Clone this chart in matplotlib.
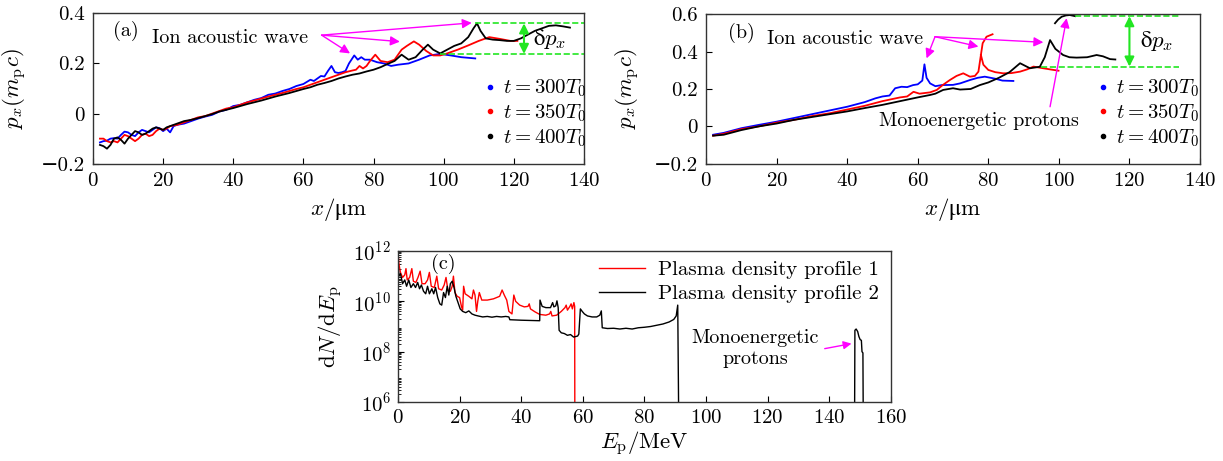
import numpy as np
import matplotlib
matplotlib.use("Agg")
import matplotlib.pyplot as plt
from matplotlib.ticker import LogLocator, NullFormatter

plt.rcParams['font.family'] = ['cmr10', 'DejaVu Serif']
plt.rcParams['mathtext.fontset'] = 'cm'
plt.rcParams['axes.formatter.use_mathtext'] = True
plt.rcParams['axes.unicode_minus'] = True

# ---------------- panel (a) data ----------------
blue_a_x = [2, 3, 4, 5, 6, 7, 8, 9, 10, 11, 12, 13, 14, 15, 16, 17, 18, 19, 20, 21, 22, 23, 24, 26, 28,
            30, 32, 34, 36, 38, 40, 42, 44, 46, 48, 50, 52, 54, 56, 58, 60, 62, 63, 64, 65, 66, 67, 68,
            69, 70, 71, 72, 73, 74.5, 75.5, 76.5, 77.5, 79, 81, 83, 85, 87, 90, 93, 96, 99, 102, 105, 109]
blue_a_y = [-0.115, -0.11, -0.108, -0.1, -0.098, -0.1, -0.085, -0.072, -0.075, -0.085, -0.09, -0.075,
            -0.065, -0.07, -0.075, -0.065, -0.055, -0.058, -0.07, -0.06, -0.075, -0.05, -0.045, -0.04,
            -0.03, -0.02, -0.012, -0.005, 0.008, 0.015, 0.03, 0.035, 0.045, 0.055, 0.062, 0.075, 0.08,
            0.09, 0.098, 0.11, 0.118, 0.135, 0.13, 0.14, 0.15, 0.148, 0.17, 0.19, 0.165, 0.162, 0.165,
            0.17, 0.2, 0.232, 0.215, 0.225, 0.215, 0.215, 0.205, 0.2, 0.19, 0.195, 0.2, 0.215, 0.232,
            0.238, 0.232, 0.225, 0.22]

red_a_x = [2, 3, 4, 5, 6, 7, 8, 9, 10, 11, 12, 13, 14, 15, 16, 17, 18, 19, 20, 21, 22, 24, 26, 28, 30,
           32, 34, 36, 38, 40, 42, 44, 46, 48, 50, 52, 54, 56, 58, 60, 62, 64, 66, 68, 70, 72, 74, 75,
           76, 77, 78, 79, 80.5, 82, 84, 86, 88, 89.5, 91.5, 93, 95, 97, 99, 101, 104, 107, 110, 113,
           116, 119, 121]
red_a_y = [-0.1, -0.1, -0.11, -0.115, -0.11, -0.115, -0.1, -0.085, -0.09, -0.1, -0.11, -0.1, -0.085,
           -0.08, -0.09, -0.085, -0.07, -0.06, -0.065, -0.06, -0.05, -0.045, -0.035, -0.025, -0.015,
           -0.01, 0.0, 0.01, 0.02, 0.025, 0.035, 0.045, 0.052, 0.06, 0.068, 0.075, 0.082, 0.09, 0.098,
           0.105, 0.115, 0.125, 0.135, 0.145, 0.155, 0.165, 0.172, 0.175, 0.19, 0.18, 0.19, 0.21, 0.235,
           0.21, 0.205, 0.215, 0.255, 0.27, 0.288, 0.275, 0.25, 0.232, 0.232, 0.24, 0.255, 0.272, 0.29,
           0.305, 0.298, 0.29, 0.29]

black_a_x = [2, 3, 4, 5, 6, 7, 8, 9, 10, 11, 12, 13, 14, 15, 16, 17, 18, 19, 20, 21, 22, 24, 26, 28,
             30, 32, 34, 36, 38, 40, 42, 44, 46, 48, 50, 52, 54, 56, 58, 60, 62, 64, 66, 68, 70, 72,
             74, 76, 78, 80, 82, 84, 86, 88, 90, 92, 94, 95.5, 97, 99, 101, 103, 105, 107, 108.5,
             109.5, 110.5, 112, 114, 116, 118, 120, 122, 124, 126, 128, 130, 132, 134, 136]
black_a_y = [-0.125, -0.13, -0.14, -0.125, -0.1, -0.095, -0.105, -0.12, -0.1, -0.085, -0.07, -0.075,
             -0.085, -0.08, -0.07, -0.06, -0.055, -0.06, -0.065, -0.055, -0.05, -0.04, -0.03, -0.025,
             -0.018, -0.01, -0.002, 0.008, 0.015, 0.022, 0.03, 0.038, 0.045, 0.052, 0.06, 0.068, 0.075,
             0.082, 0.09, 0.098, 0.105, 0.115, 0.122, 0.13, 0.14, 0.148, 0.155, 0.16, 0.168, 0.175,
             0.185, 0.198, 0.21, 0.235, 0.215, 0.225, 0.255, 0.275, 0.255, 0.24, 0.255, 0.27, 0.28,
             0.305, 0.34, 0.36, 0.33, 0.3, 0.295, 0.293, 0.29, 0.29, 0.3, 0.315, 0.33, 0.34, 0.35,
             0.352, 0.348, 0.343]

# ---------------- panel (b) data ----------------
blue_b_x = [2, 5, 10, 15, 20, 25, 30, 35, 40, 45, 48, 50, 52, 53.6, 55.4, 57, 58.7, 60, 61.3, 61.9,
            62.5, 63.5, 65, 66.8, 70, 72, 74.8, 77, 79, 82, 84, 87.1]
blue_b_y = [-0.045, -0.035, -0.01, 0.008, 0.025, 0.045, 0.065, 0.085, 0.105, 0.13, 0.15, 0.16, 0.165,
            0.204, 0.212, 0.21, 0.221, 0.225, 0.245, 0.332, 0.26, 0.23, 0.215, 0.221, 0.222, 0.23,
            0.248, 0.26, 0.266, 0.255, 0.245, 0.243]

red_b_x = [2, 5, 10, 15, 20, 25, 30, 35, 40, 45, 50, 55, 57, 58.8, 60.5, 63.5, 65.4, 67, 69.1, 71,
           72.9, 74.8, 76.2, 77.2, 77.9, 78.4, 79.5, 81.2, np.nan,
           77.9, 78.6, 80, 82, 84.2, 86.5, 89, 91, 92.8, 95.6, 97.5, 99.9]
red_b_y = [-0.05, -0.04, -0.015, 0.0, 0.02, 0.035, 0.055, 0.07, 0.09, 0.11, 0.135, 0.155, 0.16, 0.185,
           0.175, 0.182, 0.195, 0.22, 0.248, 0.27, 0.284, 0.266, 0.27, 0.293, 0.382, 0.445, 0.48, 0.493,
           np.nan,
           0.382, 0.33, 0.302, 0.29, 0.284, 0.285, 0.293, 0.305, 0.32, 0.311, 0.305, 0.298]

black_b_x = [2, 5, 10, 15, 20, 25, 30, 35, 40, 45, 50, 55, 60, 63.5, 65, 67.2, 70, 72, 75, 77.6, 80,
             83, 86, 89, 91.8, 94.6, 96, 97.5, 99, 101.2, 103, 105, 108, 110.7, 112.5, 114.5, 116,
             np.nan, 98.9, 99.8, 100.8, 102, 103.1, 104.6]
black_b_y = [-0.05, -0.045, -0.02, 0.0, 0.015, 0.035, 0.05, 0.065, 0.08, 0.098, 0.115, 0.135, 0.155,
             0.168, 0.175, 0.195, 0.204, 0.197, 0.2, 0.221, 0.235, 0.26, 0.29, 0.338, 0.311, 0.319,
             0.37, 0.462, 0.415, 0.382, 0.37, 0.368, 0.37, 0.382, 0.375, 0.36, 0.358,
             np.nan, 0.552, 0.572, 0.587, 0.594, 0.596, 0.59]

# ---------------- panel (c) data (log10 of dN/dEp) ----------------
red_c_x = [0, 0.3, 0.8, 1.5, 2.2, 2.6, 3.0, 3.8, 4.5, 5.0, 5.8, 6.5, 7.2, 7.8, 8.8, 9.6, 10.2, 10.8,
           11.8, 12.6, 13.2, 14.2, 15.0, 15.6, 16.2, 17.0, 17.6, 18.0, 18.5, 19.2, 20.0, 20.6, 21.0,
           21.3, 21.8, 23.0, 24.0, 24.5, 25.0, 25.5, 25.9, 26.4, 27.2, 29.0, 31.0, 33.0, 33.8, 34.5,
           35.3, 36.0, 37.0, 37.6, 38.2, 39.5, 41.0, 42.2, 42.6, 43.0, 44.5, 46.0, 48.0, 49.2, 49.6,
           50.0, 51.5, 53.0, 54.2, 54.6, 55.0, 55.8, 56.2, 56.6, 57.1, 57.35, 57.4]
red_c_log = [11.95, 11.5, 11.15, 10.95, 11.05, 11.3, 10.85, 10.95, 11.3, 10.8, 10.75, 10.95, 11.2,
             10.7, 10.7, 10.85, 11.15, 10.6, 10.55, 11.0, 10.5, 10.45, 10.65, 10.95, 10.45, 10.4, 10.6,
             11.0, 10.35, 10.2, 10.15, 9.8, 9.65, 10.6, 10.3, 10.2, 10.1, 10.45, 10.25, 9.6, 10.0,
             10.35, 10.05, 10.05, 10.1, 10.2, 10.45, 10.25, 10.05, 9.6, 9.5, 10.25, 10.0, 9.85, 9.78,
             9.8, 9.9, 9.7, 9.58, 9.48, 9.45, 9.5, 9.6, 9.42, 9.45, 9.6, 9.75, 9.85, 9.65, 9.8, 9.9,
             9.7, 9.95, 9.8, 5.5]

black_c_x = [0, 0.3, 0.8, 1.5, 2.2, 2.8, 3.5, 4.2, 5.0, 5.7, 6.4, 7.0, 7.6, 8.3, 9.0, 9.6, 10.2, 11.0,
             11.6, 12.2, 12.9, 13.6, 14.2, 14.8, 15.4, 16.0, 16.5, 17.0, 17.6, 18.2, 18.8, 19.5, 20.2,
             21.0, 22.0, 23.0, 24.0, 25.0, 26.0, 27.5, 29.0, 30.5, 32.0, 33.5, 35.0, 36.0, 36.3, 40.0,
             43.0, 46.0, 46.1, 46.8, 48.0, 49.5, 50.2, 50.6, 51.2, 51.6, 52.0, 52.3, 53.0, 54.0, 55.0,
             56.0, 57.0, 58.3, 58.7, 59.2, 59.8, 60.5, 61.5, 63.0, 64.5, 65.5, 66.0, 66.3, 68.0, 70.0,
             72.0, 74.0, 76.0, 78.0, 80.0, 82.0, 84.0, 86.0, 88.0, 89.5, 90.3, 90.8, 91.1, np.nan,
             148.2, 148.3, 148.7, 149.2, 149.6, 150.0, 150.4, 150.6, 150.9, 151.0]
black_c_log = [11.65, 11.0, 11.1, 10.7, 10.85, 10.6, 10.85, 10.55, 10.7, 10.55, 10.75, 10.5, 10.65,
               10.4, 10.3, 10.6, 10.3, 10.5, 10.3, 10.55, 10.15, 9.9, 9.85, 10.35, 10.15, 10.6, 10.25,
               10.7, 10.8, 10.55, 10.2, 9.95, 9.7, 9.6, 9.55, 9.62, 9.5, 9.45, 9.42, 9.38, 9.4, 9.37,
               9.4, 9.38, 9.4, 9.38, 9.27, 9.25, 9.24, 9.23, 10.05, 9.8, 9.75, 9.75, 9.95, 9.78, 9.82,
               10.02, 9.75, 8.85, 8.75, 8.72, 8.65, 8.68, 8.58, 8.62, 8.7, 9.7, 9.6, 9.5, 9.42, 9.38,
               9.38, 9.45, 9.62, 8.95, 8.92, 8.93, 8.9, 8.93, 8.9, 8.95, 8.97, 9.0, 9.05, 9.1, 9.18,
               9.28, 9.42, 9.85, 5.5, np.nan,
               5.5, 8.85, 8.9, 8.8, 8.6, 8.48, 8.45, 8.0, 7.95, 5.5]

labels_t = [r"$t=300T_0$", r"$t=350T_0$", r"$t=400T_0$"]
labels_c = ["Plasma density profile 1", "Plasma density profile 2"]

MAG = '#ff00ff'
GRN = '#22e622'
TICK_FS = 15
LAB_FS = 16.5
TXT_FS = 14.5

XLAB = r"$x/\mathrm{μm}$"
DPX = r"$\mathrm{δ}p_x$"


def style_axes(ax, pad=6):
    ax.tick_params(direction='in', labelsize=TICK_FS, length=4, width=0.8, pad=pad)
    for s in ax.spines.values():
        s.set_linewidth(1.0)
        s.set_color('#333333')


def mag_arrow(ax, start, end, ms=14):
    ax.annotate("", xy=end, xytext=start,
                arrowprops=dict(arrowstyle='-|>', color=MAG, lw=1.0, mutation_scale=ms,
                                shrinkA=0, shrinkB=0))


def green_arrow(ax, x, y0, y1):
    ax.annotate("", xy=(x, y1), xytext=(x, y0),
                arrowprops=dict(arrowstyle='<|-|>', color=GRN, lw=1.5, mutation_scale=14,
                                shrinkA=0, shrinkB=0))


fig = plt.figure(figsize=(12.23, 4.61), dpi=100)

# ---------------- (a) ----------------
ax1 = fig.add_axes([0.0760, 0.6449, 0.4015, 0.3262])
ax1.plot(blue_a_x, blue_a_y, color='blue', lw=1.3)
ax1.plot(red_a_x, red_a_y, color='red', lw=1.3)
ax1.plot(black_a_x, black_a_y, color='black', lw=1.3)
ax1.set_xlim(0, 140)
ax1.set_ylim(-0.2, 0.4)
ax1.set_xticks(np.arange(0, 141, 20))
ax1.set_yticks([-0.2, 0, 0.2, 0.4])
ax1.set_yticklabels(['−0.2', '0', '0.2', '0.4'])
style_axes(ax1)
ax1.set_xlabel(XLAB, fontsize=LAB_FS, labelpad=4)
ax1.set_ylabel(r"$p_x(m_\mathrm{p}c)$", fontsize=LAB_FS, labelpad=8)
ax1.text(0.04, 0.88, "(a)", transform=ax1.transAxes, fontsize=TXT_FS, va='center')
ax1.text(39, 0.30, "Ion acoustic wave", fontsize=TXT_FS, ha='center', va='center')
for tgt in [(73.3, 0.24), (87.5, 0.287), (108, 0.362)]:
    mag_arrow(ax1, (65.2, 0.313), tgt)
ax1.plot([109, 140], [0.36, 0.36], color=GRN, ls='--', lw=1.2)
ax1.plot([99, 140], [0.238, 0.238], color=GRN, ls='--', lw=1.2)
green_arrow(ax1, 122.9, 0.238, 0.36)
ax1.text(125.5, 0.298, DPX, fontsize=LAB_FS, va='center')
h = [ax1.plot([], [], ls='none', marker='.', ms=6, color=c)[0] for c in ['blue', 'red', 'black']]
ax1.legend(h, labels_t, loc='lower left', bbox_to_anchor=(0.775, 0.03), frameon=False,
           fontsize=TICK_FS, handlelength=0.6, handletextpad=0.3, labelspacing=0.15, borderpad=0)

# ---------------- (b) ----------------
ax2 = fig.add_axes([0.5773, 0.6449, 0.4039, 0.3241])
ax2.plot(blue_b_x, blue_b_y, color='blue', lw=1.3)
ax2.plot(red_b_x, red_b_y, color='red', lw=1.3)
ax2.plot(black_b_x, black_b_y, color='black', lw=1.3)
ax2.set_xlim(0, 140)
ax2.set_ylim(-0.2, 0.6)
ax2.set_xticks(np.arange(0, 141, 20))
ax2.set_yticks([-0.2, 0, 0.2, 0.4, 0.6])
ax2.set_yticklabels(['−0.2', '0', '0.2', '0.4', '0.6'])
style_axes(ax2)
ax2.set_xlabel(XLAB, fontsize=LAB_FS, labelpad=4)
ax2.set_ylabel(r"$p_x(m_\mathrm{p}c)$", fontsize=LAB_FS, labelpad=8)
ax2.text(0.044, 0.875, "(b)", transform=ax2.transAxes, fontsize=TXT_FS, va='center')
ax2.text(39.5, 0.467, "Ion acoustic wave", fontsize=TXT_FS, ha='center', va='center')
for tgt in [(62.5, 0.364), (77.2, 0.427), (95.6, 0.45)]:
    mag_arrow(ax2, (64.9, 0.48), tgt)
mag_arrow(ax2, (97.5, 0.105), (102.2, 0.579))
ax2.text(77.3, 0.03, "Monoenergetic protons", fontsize=TXT_FS, ha='center', va='center')
ax2.plot([104.6, 134], [0.59, 0.59], color=GRN, ls='--', lw=1.2)
ax2.plot([94.8, 134], [0.32, 0.32], color=GRN, ls='--', lw=1.2)
green_arrow(ax2, 120, 0.32, 0.59)
ax2.text(123, 0.455, DPX, fontsize=LAB_FS, va='center')
h = [ax2.plot([], [], ls='none', marker='.', ms=6, color=c)[0] for c in ['blue', 'red', 'black']]
ax2.legend(h, labels_t, loc='lower left', bbox_to_anchor=(0.77, 0.03), frameon=False,
           fontsize=TICK_FS, handlelength=0.6, handletextpad=0.3, labelspacing=0.15, borderpad=0)

# ---------------- (c) ----------------
ax3 = fig.add_axes([0.3254, 0.1280, 0.4031, 0.3275])
ax3.plot(red_c_x, 10 ** np.array(red_c_log), color='red', lw=1.0, label=labels_c[0])
ax3.plot(black_c_x, 10 ** np.array(black_c_log), color='black', lw=1.0, label=labels_c[1])
ax3.set_yscale('log')
ax3.set_xlim(0, 160)
ax3.set_ylim(1e6, 1e12)
ax3.set_xticks(np.arange(0, 161, 20))
ax3.set_yticks([1e6, 1e8, 1e10, 1e12])
ax3.yaxis.set_minor_locator(LogLocator(base=10, subs=np.arange(2, 10), numticks=30))
ax3.yaxis.set_minor_formatter(NullFormatter())
style_axes(ax3, pad=5)
ax3.tick_params(which='minor', direction='in', length=2, width=0.6)
ax3.set_xlabel(r"$E_\mathrm{p}$/MeV", fontsize=LAB_FS, labelpad=2)
ax3.set_ylabel(r"d$N$/d$E_\mathrm{p}$", fontsize=LAB_FS, labelpad=6)
ax3.text(0.068, 0.915, "(c)", transform=ax3.transAxes, fontsize=TXT_FS, va='center')
ax3.text(116, 10 ** 8.12, "Monoenergetic\nprotons", fontsize=TXT_FS, ha='center', va='center',
         linespacing=1.2)
mag_arrow(ax3, (138.5, 10 ** 8.12), (147.2, 10 ** 8.32), ms=12)
ax3.legend(loc='upper right', bbox_to_anchor=(1.0, 1.02), frameon=False, fontsize=TICK_FS,
           handlelength=2.2, handletextpad=0.6, labelspacing=0.25, borderpad=0.1)

fig.savefig("out.png", dpi=100)
